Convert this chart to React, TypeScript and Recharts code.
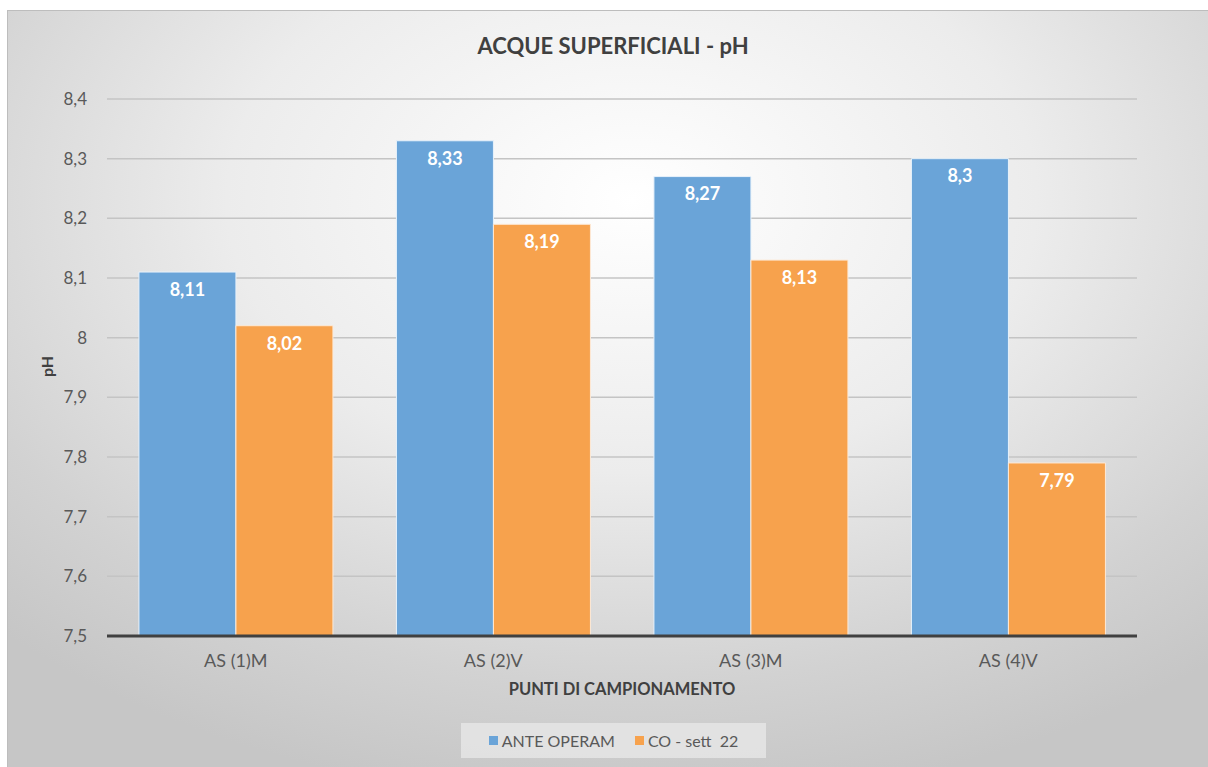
import { BarChart, Bar, XAxis, YAxis, CartesianGrid, Legend, LabelList } from 'recharts'

const categories = ['AS (1)M', 'AS (2)V', 'AS (3)M', 'AS (4)V']
const anteOperam = [8.11, 8.33, 8.27, 8.3]
const coSett22 = [8.02, 8.19, 8.13, 7.79]
const yTicks = [7.5, 7.6, 7.7, 7.8, 7.9, 8, 8.1, 8.2, 8.3, 8.4]

const seriesNames = ['ANTE OPERAM', 'CO - sett  22']
const seriesColors = ['#6aa4d8', '#f7a24d']

const FONT = 'Lato, "Open Sans", sans-serif'

const chartData = categories.map((name, i) => ({
  name,
  ante: anteOperam[i],
  co: coSett22[i],
}))

const fmt = (v: number) => String(v).replace('.', ',')

function LegendBox() {
  return (
    <div
      style={{
        width: 305,
        height: 35,
        background: 'rgba(235,235,235,0.7)',
        display: 'flex',
        alignItems: 'center',
        justifyContent: 'center',
        gap: 20,
        fontFamily: FONT,
        fontSize: 16,
        color: '#595959',
      }}
    >
      {seriesNames.map((n, i) => (
        <span key={n} style={{ display: 'flex', alignItems: 'center', whiteSpace: 'pre' }}>
          <span style={{ width: 9, height: 9, background: seriesColors[i], marginRight: 4, display: 'inline-block' }} />
          {n}
        </span>
      ))}
    </div>
  )
}

export default function App() {
  return (
    <div
      style={{
        position: 'absolute',
        left: 7,
        top: 10,
        width: 1201,
        height: 757,
        boxSizing: 'border-box',
        borderTop: '1px solid #bdbdbd',
        borderLeft: '1px solid #bdbdbd',
        background: 'radial-gradient(ellipse 75% 80% at 52% 25%, #ffffff 0%, #ececec 45%, #d2d2d2 80%, #c6c6c6 100%)',
        fontFamily: FONT,
      }}
    >
      <div
        style={{
          position: 'absolute',
          left: 0,
          width: 1210,
          top: 21,
          textAlign: 'center',
          fontSize: 22,
          fontWeight: 700,
          color: '#404040',
        }}
      >
        ACQUE SUPERFICIALI - pH
      </div>
      <div
        style={{
          position: 'absolute',
          left: 28,
          top: 346,
          transform: 'rotate(-90deg)',
          fontSize: 16,
          fontWeight: 700,
          color: '#404040',
        }}
      >
        pH
      </div>
      <BarChart
        width={1201}
        height={757}
        data={chartData}
        margin={{ top: 88, right: 72, left: 39, bottom: 32 }}
        barCategoryGap="12.4%"
        barGap={0}
      >
        <CartesianGrid vertical={false} stroke="#c4c4c4" strokeWidth={1.5} />
        <XAxis
          dataKey="name"
          height={65}
          tickLine={false}
          axisLine={{ stroke: '#404040', strokeWidth: 3 }}
          tick={{ fill: '#595959', fontSize: 18, fontFamily: FONT }}
          tickMargin={12}
          label={{ value: 'PUNTI DI CAMPIONAMENTO', position: 'insideBottom', offset: 6, fill: '#404040', fontSize: 16.5, fontWeight: 700, fontFamily: FONT }}
        />
        <YAxis
          width={60}
          domain={[7.5, 8.4]}
          ticks={yTicks}
          interval={0}
          tickLine={false}
          axisLine={false}
          tickFormatter={fmt}
          tick={{ fill: '#595959', fontSize: 17, fontFamily: FONT }}
          tickMargin={14}
        />
        <Legend
          content={() => <LegendBox />}
          wrapperStyle={{ position: 'absolute', left: 453, top: 712, width: 305, height: 35 }}
        />
        <Bar dataKey="ante" name={seriesNames[0]} fill={seriesColors[0]} stroke="#e8f2fb" strokeWidth={1} isAnimationActive={false}>
          <LabelList dataKey="ante" position="insideTop" offset={11} formatter={(v: any) => fmt(v)} fill="#ffffff" fontSize={18} fontWeight={700} fontFamily={FONT} />
        </Bar>
        <Bar dataKey="co" name={seriesNames[1]} fill={seriesColors[1]} stroke="#fde9d6" strokeWidth={1} isAnimationActive={false}>
          <LabelList dataKey="co" position="insideTop" offset={11} formatter={(v: any) => fmt(v)} fill="#ffffff" fontSize={18} fontWeight={700} fontFamily={FONT} />
        </Bar>
      </BarChart>
    </div>
  )
}
